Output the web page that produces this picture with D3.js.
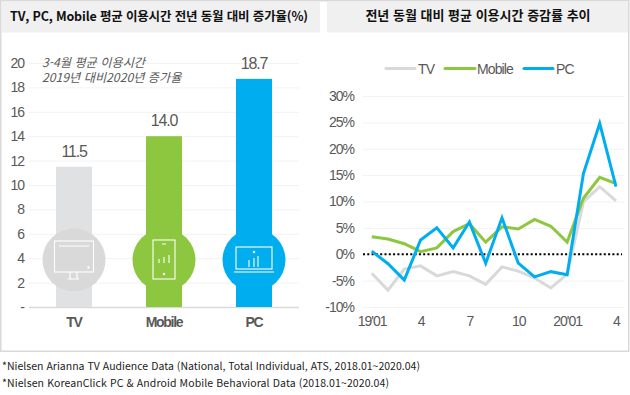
<!DOCTYPE html>
<html lang="ko">
<head>
<meta charset="UTF-8">
<title>TV, PC, Mobile 평균 이용시간</title>
<script src="https://d3js.org/d3.v7.min.js"></script>
<style>
    html, body { margin: 0; padding: 0; background: #fff; }
    svg { display: block; }
    text { font-family: "Liberation Sans", Arial, sans-serif; fill: #595959; }
    .kr { font-family: "Noto Sans CJK KR", sans-serif; }
    .axis path { display: none; }
    .axis text { font-size: 14px; letter-spacing: -1px; }
</style>
</head>
<body>
<svg width="630" height="395"></svg>
<script>
// left chart
const devices = ["TV", "Mobile", "PC"];
const growth = [11.5, 14.0, 18.7];
const growthLabels = ["11.5", "14.0", "18.7"];
const growthTicks = [0, 2, 4, 6, 8, 10, 12, 14, 16, 18, 20];

// right chart
const months = ["19'01", "19'02", "19'03", "19'04", "19'05", "19'06", "19'07", "19'08",
                "19'09", "19'10", "19'11", "19'12", "20'01", "20'02", "20'03", "20'04"];
const monthTicks = ["19'01", "19'04", "19'07", "19'10", "20'01", "20'04"];
const monthTickLabels = ["19'01", "4", "7", "10", "20'01", "4"];
const tvChange = [-3.6, -6.8, -2.8, -2.2, -4.1, -3.3, -4.1, -5.7, -2.4, -3.2, -4.5, -6.4, -3.8, 9.9, 12.8, 10.1];
const mobileChange = [3.3, 2.9, 2.0, 0.5, 1.2, 4.3, 5.8, 2.3, 5.2, 4.8, 6.6, 5.3, 2.3, 10.6, 14.6, 13.4];
const pcChange = [0.6, -1.8, -4.9, 2.7, 5.0, 1.2, 6.1, -1.7, 6.9, -1.7, -4.3, -3.3, -3.9, 15.3, 24.8, 12.8];
const changeTicks = [-10, -5, 0, 5, 10, 15, 20, 25, 30];

const barColors = { TV: "#e0e1e3", Mobile: "#8dc63f", PC: "#00aeef" };
const circleColors = { TV: "#d9d9d9", Mobile: "#8dc63f", PC: "#00aeef" };
const lineColors = { TV: "#d9d9d9", Mobile: "#8dc63f", PC: "#00aeef" };
const gridColor = "#f2f2f2";

const svg = d3.select("svg");

// frame and header strips
svg.append("rect").attr("x", 0.75).attr("y", 0.75).attr("width", 628).attr("height", 350.5)
    .attr("fill", "#fff").attr("stroke", "#d9d9d9").attr("stroke-width", 1.5);
svg.append("rect").attr("x", 1.5).attr("y", 1.5).attr("width", 318.5).attr("height", 31).attr("fill", "#f0f0f0");
svg.append("rect").attr("x", 327).attr("y", 1.5).attr("width", 301).attr("height", 31).attr("fill", "#f0f0f0");

svg.append("text").attr("class", "kr").attr("x", 10).attr("y", 21)
    .attr("textLength", 298)
    .style("font-size", "12.5px").style("font-weight", "700").style("fill", "#111")
    .text("TV, PC, Mobile 평균 이용시간 전년 동월 대비 증가율(%)");
svg.append("text").attr("class", "kr").attr("x", 478).attr("y", 20).attr("text-anchor", "middle")
    .style("font-size", "13px").style("font-weight", "700").style("fill", "#111")
    .text("전년 동월 대비 평균 이용시간 증감률 추이");

// ---- left: bars
const xBar = d3.scaleBand().domain(devices).range([29, 299]).paddingInner(0.6).paddingOuter(0.3);
const yBar = d3.scaleLinear().domain([0, 20]).range([307, 63]);

const barAxis = svg.append("g").attr("class", "axis").attr("transform", "translate(29,0)")
    .call(d3.axisLeft(yBar).tickValues(growthTicks).tickSize(-270).tickPadding(5)
        .tickFormat(d => d === 0 ? "-" : d));
barAxis.selectAll("line").attr("stroke", d => d === 0 ? "#d9d9d9" : gridColor).attr("stroke-width", d => d === 0 ? 1.5 : 1);

svg.append("g").selectAll("rect").data(devices).join("rect")
    .attr("x", d => xBar(d))
    .attr("y", (d, i) => yBar(growth[i]))
    .attr("width", xBar.bandwidth())
    .attr("height", (d, i) => yBar(0) - yBar(growth[i]))
    .attr("fill", d => barColors[d]);

svg.append("g").selectAll("text").data(devices).join("text")
    .attr("x", d => xBar(d) + xBar.bandwidth() / 2)
    .attr("y", (d, i) => yBar(growth[i]) - 10)
    .attr("text-anchor", "middle")
    .style("font-size", "16px").style("letter-spacing", "-1.2px")
    .text((d, i) => growthLabels[i]);

svg.append("g").selectAll("text").data(devices).join("text")
    .attr("x", d => xBar(d) + xBar.bandwidth() / 2)
    .attr("y", 327)
    .attr("text-anchor", "middle")
    .style("font-size", "14px").style("font-weight", "700").style("letter-spacing", "-1.3px")
    .text(d => d);

// note over the bars
svg.append("text").attr("class", "kr").attr("x", 42).attr("y", 67)
    .style("font-size", "12.2px").style("font-style", "italic").text("3-4월 평균 이용시간");
svg.append("text").attr("class", "kr").attr("x", 42).attr("y", 82)
    .style("font-size", "12.2px").style("font-style", "italic").text("2019년 대비2020년 증가율");

// icons in the circles
const iconY = 260;
const icons = svg.append("g").selectAll("g").data(devices).join("g")
    .attr("transform", d => `translate(${xBar(d) + xBar.bandwidth() / 2},${iconY})`);
icons.append("circle").attr("r", 31.5).attr("fill", d => circleColors[d]);

const white = g => g.attr("fill", "none").attr("stroke", "#fff").attr("stroke-width", 1.1);

const tvIcon = icons.filter(d => d === "TV").append("g").call(white);
tvIcon.append("rect").attr("x", -19.5).attr("y", -19).attr("width", 39).attr("height", 31);
tvIcon.append("path").attr("d", "M-15,-14H15M-4,12V19M3,12V19M-6,19H5");
tvIcon.append("circle").attr("cx", 14.5).attr("cy", 7.5).attr("r", 0.6);

const mobileIcon = icons.filter(d => d === "Mobile").append("g").call(white);
mobileIcon.append("rect").attr("x", -11).attr("y", -20).attr("width", 22).attr("height", 39);
mobileIcon.append("path").attr("d", "M-2,-16H2M-5,-1V3M0,-3V3M5,-5V3");
mobileIcon.append("circle").attr("cx", 0).attr("cy", 14).attr("r", 0.7);

const pcIcon = icons.filter(d => d === "PC").append("g").call(white);
pcIcon.append("rect").attr("x", -18).attr("y", -13).attr("width", 36).attr("height", 22);
pcIcon.append("path").attr("d", "M-20,12H20M-5,-0V7M0,-2V7M4,-4V7");
pcIcon.append("circle").attr("cx", 0).attr("cy", -8).attr("r", 0.7);

// ---- right: lines
const xLine = d3.scalePoint().domain(months).range([371.7, 616]);
const yLine = d3.scaleLinear().domain([-10, 30]).range([307, 96]);

const lineAxis = svg.append("g").attr("class", "axis").attr("transform", "translate(363,0)")
    .call(d3.axisLeft(yLine).tickValues(changeTicks).tickSize(-261).tickPadding(9)
        .tickFormat(d => d + "%"));
lineAxis.selectAll("line").attr("stroke", gridColor);

const monthAxis = svg.append("g").attr("class", "axis").attr("transform", "translate(0,312)")
    .call(d3.axisBottom(xLine).tickValues(monthTicks).tickSize(0).tickPadding(4)
        .tickFormat((d, i) => monthTickLabels[i]));

const line = d3.line().x((d, i) => xLine(months[i])).y(d => yLine(d));

const series = [
    { name: "TV", values: tvChange },
    { name: "Mobile", values: mobileChange }
];

svg.append("g").selectAll("path").data(series).join("path")
    .attr("d", d => line(d.values))
    .attr("fill", "none")
    .attr("stroke", d => lineColors[d.name])
    .attr("stroke-width", 3);

// dotted zero line
svg.append("line")
    .attr("x1", 363).attr("x2", 622)
    .attr("y1", yLine(0)).attr("y2", yLine(0))
    .attr("stroke", "#000").attr("stroke-width", 2).attr("stroke-dasharray", "2 2.3");

// PC stays on top of the dots where it crosses
svg.append("path").attr("d", line(pcChange)).attr("fill", "none")
    .attr("stroke", lineColors.PC).attr("stroke-width", 3);

// legend
const legendX = { TV: [386, 415, 418], Mobile: [445, 475, 477], PC: [524, 553, 556] };
const legend = svg.append("g").selectAll("g").data(devices).join("g");
legend.append("line")
    .attr("x1", d => legendX[d][0]).attr("x2", d => legendX[d][1])
    .attr("y1", 68.5).attr("y2", 68.5)
    .attr("stroke", d => lineColors[d]).attr("stroke-width", 3).attr("stroke-linecap", "round");
legend.append("text")
    .attr("x", d => legendX[d][2]).attr("y", 73.5)
    .style("font-size", "14px").style("letter-spacing", "-0.9px")
    .text(d => d);

// footnotes
svg.append("text").attr("x", 2).attr("y", 370).attr("class", "kr")
    .attr("textLength", 418)
    .style("font-size", "10.5px").style("fill", "#222")
    .text("*Nielsen Arianna TV Audience Data (National, Total Individual, ATS, 2018.01~2020.04)");
svg.append("text").attr("x", 2).attr("y", 387).attr("class", "kr")
    .attr("textLength", 387)
    .style("font-size", "10.5px").style("fill", "#222")
    .text("*Nielsen KoreanClick PC & Android Mobile Behavioral Data (2018.01~2020.04)");
</script>
</body>
</html>
